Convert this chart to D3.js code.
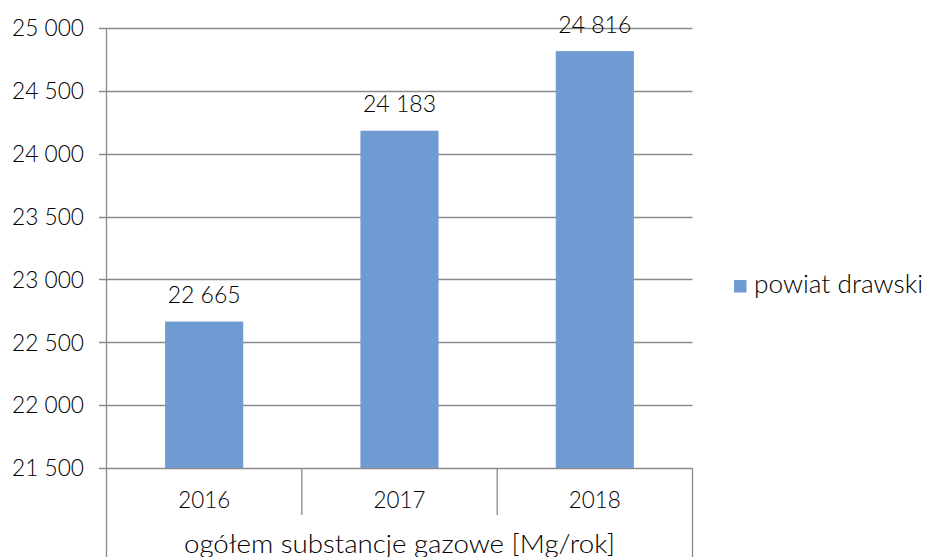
<!DOCTYPE html>
<html><head><meta charset="utf-8">
<script src="https://cdn.jsdelivr.net/npm/d3@7"></script>
<style>html,body{margin:0;padding:0;background:#fff;}svg{display:block;}text{font-family:Lato,"Noto Sans",sans-serif;fill:#000;font-weight:300;}</style>
</head><body>
<svg id="chart" width="930" height="557"></svg>
<script>
const categories = ["2016", "2017", "2018"];
const values = [22665, 24183, 24816];
const valueLabels = ["22 665", "24 183", "24 816"];
const yTicks = [21500, 22000, 22500, 23000, 23500, 24000, 24500, 25000];
const yTickLabels = ["21 500", "22 000", "22 500", "23 000", "23 500", "24 000", "24 500", "25 000"];
const seriesName = "powiat drawski";
const groupLabel = "ogółem substancje gazowe [Mg/rok]";

const svg = d3.select("#chart");
const L = 106.5, R = 692.5, T = 28, B = 468;
const gridColor = "#8a8a8a", barColor = "#6F9BD2";

const x = d3.scaleBand().domain(categories).range([L, R]).paddingInner(0.6).paddingOuter(0.3);
const y = d3.scaleLinear().domain([21500, 25000]).range([B, T]);
const fs = 23, fsText = 25;

// gridlines + y ticks
svg.append("g").selectAll("line").data(yTicks).join("line")
  .attr("x1", L - 7.5).attr("x2", R)
  .attr("y1", d => Math.round(y(d)) + 0.5).attr("y2", d => Math.round(y(d)) + 0.5)
  .attr("stroke", gridColor).attr("stroke-width", 1.3);
svg.append("g").selectAll("text").data(yTicks).join("text")
  .attr("x", 84).attr("y", d => y(d)).attr("dy", "0.36em")
  .attr("text-anchor", "end").style("font-size", fs + "px")
  .attr("textLength", 72).attr("lengthAdjust", "spacingAndGlyphs")
  .text((d, i) => yTickLabels[i]);

// bars
svg.append("g").selectAll("rect").data(values).join("rect")
  .attr("x", (d, i) => x(categories[i])).attr("width", x.bandwidth())
  .attr("y", d => y(d)).attr("height", d => B - y(d))
  .attr("fill", barColor);

// value labels
svg.append("g").selectAll("text").data(values).join("text")
  .attr("x", (d, i) => x(categories[i]) + x.bandwidth() / 2)
  .attr("y", d => y(d) - 18.5)
  .attr("text-anchor", "middle").style("font-size", fs + "px")
  .attr("textLength", 73).attr("lengthAdjust", "spacingAndGlyphs")
  .text((d, i) => valueLabels[i]);

// axis lines
svg.append("line").attr("x1", L).attr("x2", L).attr("y1", T).attr("y2", 557)
  .attr("stroke", gridColor).attr("stroke-width", 1.3);
svg.append("line").attr("x1", R).attr("x2", R).attr("y1", B).attr("y2", 557)
  .attr("stroke", gridColor).attr("stroke-width", 1.3);
svg.append("g").selectAll("line").data(categories.slice(1)).join("line")
  .attr("x1", d => x(d) - x.bandwidth() * 0.75).attr("x2", d => x(d) - x.bandwidth() * 0.75)
  .attr("y1", B).attr("y2", 515)
  .attr("stroke", gridColor).attr("stroke-width", 1.3);

// category labels
svg.append("g").selectAll("text").data(categories).join("text")
  .attr("x", d => x(d) + x.bandwidth() / 2).attr("y", 508)
  .attr("text-anchor", "middle").style("font-size", fs + "px")
  .attr("textLength", 52).attr("lengthAdjust", "spacingAndGlyphs")
  .text(d => d);

// group label
svg.append("text").attr("x", (L + R) / 2).attr("y", 553)
  .attr("text-anchor", "middle").style("font-size", fsText + "px")
  .attr("textLength", 431).attr("lengthAdjust", "spacingAndGlyphs")
  .text(groupLabel);

// legend
svg.append("rect").attr("x", 734).attr("y", 280).attr("width", 12.5).attr("height", 12.5).attr("fill", barColor);
svg.append("text").attr("x", 754).attr("y", 293).style("font-size", fsText + "px")
  .attr("textLength", 169).attr("lengthAdjust", "spacingAndGlyphs")
  .text(seriesName);
</script>
</body></html>
